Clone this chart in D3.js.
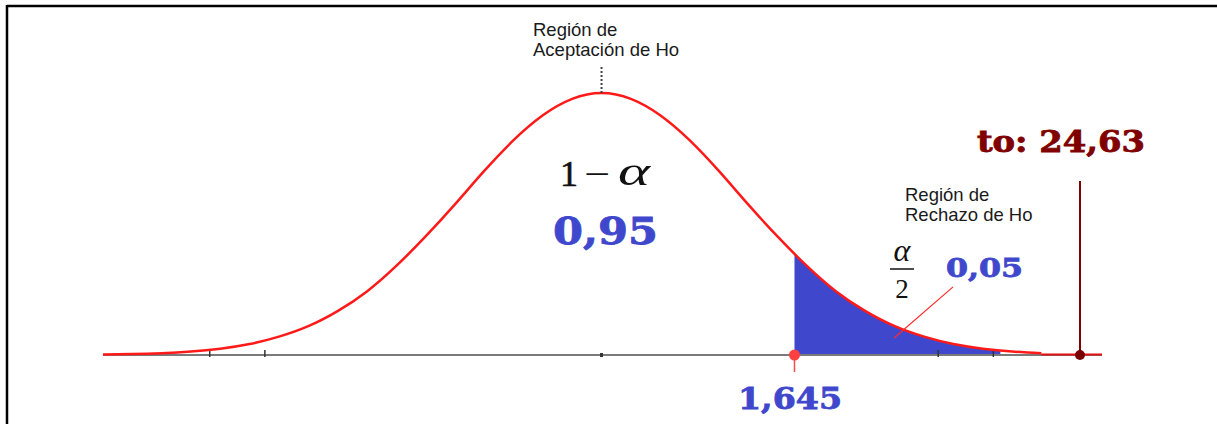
<!DOCTYPE html>
<html>
<head>
<meta charset="utf-8">
<script src="https://cdn.jsdelivr.net/npm/d3@7"></script>
<style>
  html, body { margin: 0; padding: 0; background: #fff; }
  svg { display: block; }
</style>
</head>
<body>
<svg id="chart" width="1217" height="424"></svg>
<script>
// Density curve of the test statistic (standardised units)
const curveZ = [-4.25, -4, -3.75, -3.5, -3.25, -3, -2.75, -2.5, -2.25, -2, -1.75, -1.5, -1.25, -1, -0.75, -0.5, -0.25,
  0, 0.25, 0.5, 0.75, 1, 1.25, 1.5, 1.75, 2, 2.25, 2.5, 2.75, 3, 3.25, 3.5, 3.75];
const curveDensity = [0.0007, 0.0014, 0.0028, 0.0053, 0.0096, 0.0167, 0.028, 0.044, 0.067, 0.097, 0.136, 0.181, 0.230, 0.281, 0.328, 0.366, 0.391,
  0.400, 0.391, 0.366, 0.328, 0.281, 0.230, 0.181, 0.136, 0.097, 0.067, 0.044, 0.028, 0.0167, 0.0096, 0.0053, 0.0028];

// Key values of the test
const confidence = 0.95;      // 1 - alpha
const alphaTail = 0.05;       // alpha / 2 region
const criticalValue = 1.645;  // boundary of the rejection region
const testStatistic = 24.63;  // observed t0
const rejectionEnd = 3.4;     // where the shaded tail visibly ends
const axisTicks = [-3.34, -2.87, 0, 2.87, 3.34];
const pointerFrom = [2.494, 0.026];
const pointerTo = [2.997, 0.104];

const fmt = v => String(v).replace(".", ",");

const svg = d3.select("#chart");

// The axis is compressed beyond the curve so that t0 still fits on the page
const x = d3.scaleLinear()
  .domain([-4.25, 3.9, testStatistic, 28])
  .range([103, 1059, 1080, 1102]);
const y = d3.scaleLinear().domain([0, 0.4]).range([355, 93]);

// Frame (top and left edges)
svg.append("line").attr("x1", 7).attr("x2", 1217).attr("y1", 6).attr("y2", 6)
  .attr("stroke", "#000").attr("stroke-width", 2.5);
svg.append("line").attr("x1", 7).attr("x2", 7).attr("y1", 5).attr("y2", 424)
  .attr("stroke", "#000").attr("stroke-width", 2.5);

const pts = curveZ.map((z, i) => [z, curveDensity[i]]);

// Rejection region shading
svg.append("clipPath").attr("id", "tail")
  .append("rect")
  .attr("x", x(criticalValue)).attr("y", 0)
  .attr("width", x(rejectionEnd) - x(criticalValue)).attr("height", y(0));

const area = d3.area()
  .x(d => x(d[0])).y0(y(0)).y1(d => y(d[1]))
  .curve(d3.curveNatural);
svg.append("path").datum(pts)
  .attr("d", area)
  .attr("fill", "#3f48cc")
  .attr("clip-path", "url(#tail)");

// Horizontal axis
svg.append("line")
  .attr("x1", x(-4.25)).attr("x2", x(28))
  .attr("y1", y(0)).attr("y2", y(0))
  .attr("stroke", "#7a7a7a").attr("stroke-width", 2);

svg.selectAll("line.tick").data(axisTicks).join("line")
  .attr("class", "tick")
  .attr("x1", d => x(d)).attr("x2", d => x(d))
  .attr("y1", d => d === 0 ? y(0) - 2 : y(0) - 5)
  .attr("y2", d => y(0) + 2)
  .attr("stroke", "#333").attr("stroke-width", d => d === 0 ? 3 : 1.5);

// Density curve
const line = d3.line().x(d => x(d[0])).y(d => y(d[1])).curve(d3.curveNatural);
svg.append("path").datum(pts)
  .attr("d", line)
  .attr("fill", "none")
  .attr("stroke", "#ff1a1a")
  .attr("stroke-width", 2.5);

// Right tail running along the axis
svg.append("line")
  .attr("x1", x(3.75)).attr("x2", x(28))
  .attr("y1", y(0) - 0.5).attr("y2", y(0) - 0.5)
  .attr("stroke", "#e01010").attr("stroke-width", 2);

// Dotted marker up from the mode
svg.append("line")
  .attr("x1", x(0)).attr("x2", x(0))
  .attr("y1", 67).attr("y2", y(0.4))
  .attr("stroke", "#444").attr("stroke-width", 2)
  .attr("stroke-dasharray", "2,2");

// Critical value marker
svg.append("line")
  .attr("x1", x(criticalValue)).attr("x2", x(criticalValue))
  .attr("y1", y(0)).attr("y2", 372)
  .attr("stroke", "#ff4a4a").attr("stroke-width", 1.5);
svg.append("circle")
  .attr("cx", x(criticalValue)).attr("cy", y(0)).attr("r", 5.5)
  .attr("fill", "#ff4040");

// Observed statistic marker
svg.append("line")
  .attr("x1", x(testStatistic)).attr("x2", x(testStatistic))
  .attr("y1", 181).attr("y2", y(0))
  .attr("stroke", "#800000").attr("stroke-width", 2);
svg.append("circle")
  .attr("cx", x(testStatistic)).attr("cy", y(0)).attr("r", 5)
  .attr("fill", "#7a0000");

// Pointer from the tail label into the shaded region
svg.append("line")
  .attr("x1", x(pointerFrom[0])).attr("y1", y(pointerFrom[1]))
  .attr("x2", x(pointerTo[0])).attr("y2", y(pointerTo[1]))
  .attr("stroke", "#ff2a2a").attr("stroke-width", 1.2);

// Region captions
const sans = "'Liberation Sans', Arial, sans-serif";
const serif = "'Liberation Serif', 'Times New Roman', serif";
const heavy = "'DejaVu Serif', serif";

function caption(lines, x0, y0) {
  const t = svg.append("text")
    .attr("font-family", sans).attr("font-size", 18.5).attr("fill", "#1a1a1a");
  lines.forEach((s, i) => t.append("tspan").attr("x", x0).attr("y", y0 + i * 20).text(s));
}
caption(["Región de", "Aceptación de Ho"], 533, 36);
caption(["Región de", "Rechazo de Ho"], 905, 201);

// 1 − α
svg.append("text").attr("x", 560).attr("y", 186)
  .attr("font-family", serif).attr("font-size", 36).attr("fill", "#111")
  .attr("stroke", "#111").attr("stroke-width", 0.6).text("1");
svg.append("text").attr("x", 584).attr("y", 186)
  .attr("font-family", serif).attr("font-size", 36).attr("fill", "#111")
  .attr("textLength", 26).attr("lengthAdjust", "spacingAndGlyphs").text("−");
svg.append("text").attr("x", 618).attr("y", 185)
  .attr("font-family", serif).attr("font-style", "italic").attr("font-size", 40).attr("fill", "#111")
  .attr("textLength", 32).attr("lengthAdjust", "spacingAndGlyphs").text("α");

// α / 2
svg.append("text").attr("x", 902).attr("y", 261).attr("text-anchor", "middle")
  .attr("font-family", serif).attr("font-style", "italic").attr("font-size", 32).attr("fill", "#111").text("α");
svg.append("line").attr("x1", 890).attr("x2", 914).attr("y1", 269).attr("y2", 269)
  .attr("stroke", "#111").attr("stroke-width", 1.5);
svg.append("text").attr("x", 902).attr("y", 298).attr("text-anchor", "middle")
  .attr("font-family", serif).attr("font-size", 27).attr("fill", "#111").text("2");

// Bold value labels
function bold(txt, x0, y0, size, len, color) {
  svg.append("text").attr("x", x0).attr("y", y0)
    .attr("font-family", heavy).attr("font-weight", "bold")
    .attr("font-size", size).attr("fill", color)
    .attr("stroke", color).attr("stroke-width", 0.8)
    .attr("textLength", len).attr("lengthAdjust", "spacingAndGlyphs")
    .text(txt);
}
bold(fmt(confidence), 553, 244, 37, 105, "#3f48cc");
bold(fmt(alphaTail), 946, 277, 26, 77, "#3f48cc");
bold(fmt(criticalValue), 738, 409, 29, 104, "#3f48cc");
bold("to: " + fmt(testStatistic), 977, 152, 30, 168, "#800000");
</script>
</body>
</html>
